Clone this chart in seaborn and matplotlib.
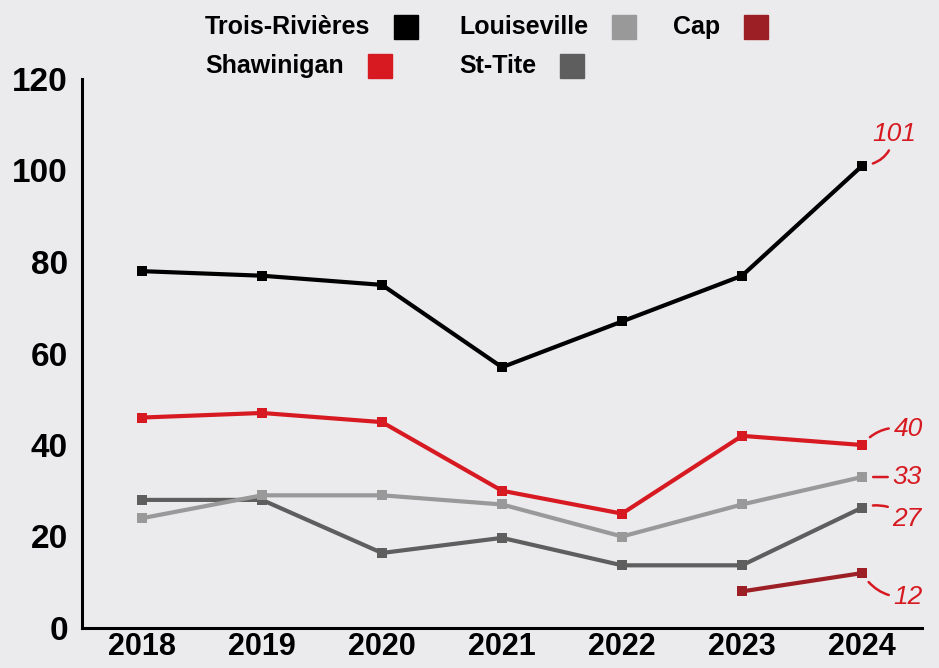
import pandas as pd
import numpy as np
import matplotlib
matplotlib.use("Agg")
import matplotlib.pyplot as plt
from matplotlib.patches import Rectangle
import seaborn as sns

# --- data ---
years = [2018, 2019, 2020, 2021, 2022, 2023, 2024]
trois_rivieres = [78, 77, 75, 57, 67, 77, 101]
shawinigan = [46, 47, 45, 30, 25, 42, 40]
louiseville = [24, 29, 29, 27, 20, 27, 33]
st_tite = [28, 28, 16.4, 19.7, 13.7, 13.7, 26.3]
cap = [np.nan, np.nan, np.nan, np.nan, np.nan, 8, 12]

end_labels = {"Trois-Rivières": "101", "Shawinigan": "40", "Louiseville": "33",
              "St-Tite": "27", "Cap": "12"}

colors = {"Trois-Rivières": "#000000", "Louiseville": "#999999", "Cap": "#9b1f24",
          "Shawinigan": "#d71a21", "St-Tite": "#5e5e5e"}

series = {"Trois-Rivières": trois_rivieres, "Shawinigan": shawinigan,
          "Louiseville": louiseville, "St-Tite": st_tite, "Cap": cap}

rows = []
for city, vals in series.items():
    for y, v in zip(years, vals):
        if not np.isnan(v):
            rows.append({"year": y, "value": v, "city": city})
df = pd.DataFrame(rows)

# --- style ---
bg = "#ebebee"
sns.set_style("white")
plt.rcParams["font.family"] = ["Liberation Sans", "DejaVu Sans"]
plt.rcParams["text.color"] = "black"
plt.rcParams["xtick.color"] = "black"
plt.rcParams["ytick.color"] = "black"

fig = plt.figure(figsize=(9.39, 6.68), dpi=100, facecolor=bg)
ax = fig.add_axes([82 / 939, 40 / 668, 840 / 939, 549 / 668], facecolor=bg)

draw_order = ["Cap", "St-Tite", "Louiseville", "Shawinigan", "Trois-Rivières"]
sns.lineplot(data=df, x="year", y="value", hue="city", hue_order=draw_order,
             palette=colors, marker="s", markersize=7, markeredgewidth=0,
             linewidth=3, legend=False, ax=ax, clip_on=False)

ax.set_xlim(2017.5, 2024.5)
ax.set_ylim(0, 120)
ax.set_xlabel("")
ax.set_ylabel("")

for s in ["top", "right"]:
    ax.spines[s].set_visible(False)
for s in ["left", "bottom"]:
    ax.spines[s].set_linewidth(2.2)
    ax.spines[s].set_color("black")

ax.set_yticks(range(0, 121, 20))
ax.tick_params(axis="y", direction="in", length=14, width=2.2, pad=10,
               labelsize=24)
for lbl in ax.get_yticklabels():
    lbl.set_fontweight("bold")

ax.set_xticks(years)
ax.set_xticks(np.arange(2018.5, 2025, 1), minor=True)
ax.tick_params(axis="x", which="major", length=0, pad=3)
ax.tick_params(axis="x", which="minor", direction="in", length=14, width=1.5)
ax.set_xticklabels([str(y) for y in years], fontsize=22, fontweight="bold")

# --- end labels ---
offsets = {"Trois-Rivières": (32, 32, -0.4), "Shawinigan": (46, 16, 0.3),
           "Louiseville": (45, 0, 0.0), "St-Tite": (45, -11, 0.3),
           "Cap": (46, -24, -0.3)}
for city, vals in series.items():
    dx, dy, rad = offsets[city]
    ax.annotate(end_labels[city], xy=(years[-1], vals[-1]),
                xytext=(dx, dy), textcoords="offset pixels",
                ha="center", va="center", color="#d71a21", fontsize=19,
                fontstyle="italic", annotation_clip=False,
                arrowprops=dict(arrowstyle="-", color="#d71a21", lw=1.8,
                                shrinkA=1, shrinkB=8,
                                connectionstyle=f"arc3,rad={rad}"))

# --- legend (text then square) ---
legend_items = [("Trois-Rivières", 205, 27), ("Louiseville", 459, 27), ("Cap", 673, 27),
                ("Shawinigan", 205, 66), ("St-Tite", 459, 66)]
fig.canvas.draw()
renderer = fig.canvas.get_renderer()
W, H = fig.bbox.width, fig.bbox.height
for name, px, py in legend_items:
    t = fig.text(px / W, 1 - py / H, name, ha="left", va="center",
                 fontsize=18, fontweight="bold")
    bb = t.get_window_extent(renderer)
    sq = 24
    fig.patches.append(Rectangle(((bb.x1 + 24) / W, (H - py - sq / 2) / H), sq / W, sq / H,
                                 transform=fig.transFigure, color=colors[name]))

fig.savefig("out.png", dpi=100, facecolor=bg)
